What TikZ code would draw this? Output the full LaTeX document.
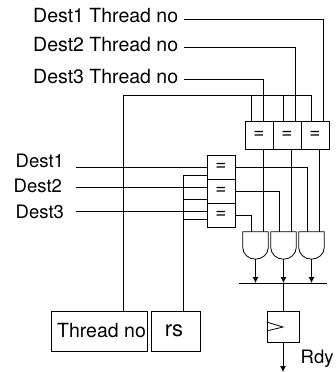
\documentclass[tikz,border=0pt]{standalone}
\usepackage{fontspec}
\setmainfont{TeX Gyre Heros}
\usetikzlibrary{arrows.meta,calc}
\tikzset{
    wire/.style={line width=0.8pt},
    flow/.style={line width=0.8pt, -{Latex[length=6pt,width=6pt]}},
    eqbox/.style={draw, line width=0.8pt, minimum width=28pt, minimum height=#1, inner sep=0pt, font=\fontsize{19}{19}\selectfont},
    regbox/.style={draw, line width=0.8pt, inner sep=0pt, minimum height=40pt},
    lbl/.style={inner sep=0pt, anchor=base west, font=\fontsize{19.5}{19.5}\selectfont},
    destlbl/.style={lbl, font=\fontsize{18.5}{18.5}\selectfont},
    andgate/.style={minimum width=25pt, minimum height=27pt, inner sep=0pt}
}
\begin{document}
\begin{tikzpicture}[x=1pt, y=1pt]
    \useasboundingbox (0,0) rectangle (335,-372);
    % labels along the top
    \node[lbl] (threadone) at (33,-23) {Dest1 Thread no};
    \node[lbl] (threadtwo) at (33,-51) {Dest2 Thread no};
    \node[lbl] (threadthree) at (33,-83) {Dest3 Thread no};
    % labels on the left
    \node[destlbl] (destone) at (15.5,-167) {Dest1};
    \node[destlbl] (desttwo) at (13.5,-192) {Dest2};
    \node[destlbl] (destthree) at (15.5,-218) {Dest3};
    % thread compare row
    \node[eqbox=28pt] (eqa) at (259,-135) {=};
    \node[eqbox=28pt] (eqb) at (287,-135) {=};
    \node[eqbox=28pt] (eqc) at (315,-135) {=};
    % dest compare column
    \node[eqbox=24pt] (cmpa) at (221,-167) {\raisebox{-3pt}{=}};
    \node[eqbox=24pt] (cmpb) at (221,-191) {\raisebox{-3pt}{=}};
    \node[eqbox=24pt] (cmpc) at (221,-215) {\raisebox{1pt}{=}};
    % and gates
    \foreach \name/\x in {anda/255.5, andb/283.5, andc/311.5} {
        \node[andgate] (\name) at (\x,-245.5) {};
        \draw[wire] (\name.north west) -- (\name.north east) -- ++(0,-16)
            .. controls +(0,-6) and +(7,0) .. (\name.south)
            .. controls +(-7,0) and +(0,-6) .. ($(\name.north west)+(0,-16)$) -- cycle;
    }
    % bottom boxes
    \node[regbox, minimum width=96pt] (threadno) at (99,-331) {\fontsize{19.5}{19.5}\selectfont\hspace*{5pt}Thread no};
    \node[regbox, minimum width=49pt] (rsbox) at (175.5,-331) {\fontsize{22}{22}\selectfont rs\hspace*{3pt}};
    \node[regbox, minimum width=32pt, minimum height=31pt] (flop) at (283,-326.5) {};
    \node[destlbl] (rdy) at (300.5,-363) {Rdy};
    % bus bar
    \coordinate (barl) at (239,-283);
    \coordinate (barr) at (327,-283);
    \coordinate (rdyend) at (283,-372);
    \draw[wire] (barl) -- (barr);
    % clock mark
    \draw[wire] (flop.west |- 0,-322) -- (283,-327) -- (flop.west |- 0,-331);
    % thread inputs
    \draw[wire] (184,-19) -- (323,-19) -- (323,-121);
    \draw[wire] (184,-47) -- (295,-47) -- (295,-121);
    \draw[wire] (184,-79) -- (263,-79) -- (263,-121);
    % thread no bus
    \draw[wire] (threadno.north -| 123,0) -- (123,-95) -- (311,-95) -- (311,-121);
    \draw[wire] (251,-95) -- (251,-121);
    \draw[wire] (283,-95) -- (283,-121);
    % dest lines
    \draw[wire] (76,-167) -- (cmpa.west);
    \draw[wire] (76,-187) -- (207,-187);
    \draw[wire] (76,-211) -- (207,-211);
    % rs bus
    \draw[wire] (rsbox.north -| 183,0) -- (183,-175) -- (207,-175);
    \draw[wire] (183,-199) -- (207,-199);
    \draw[wire] (183,-219) -- (207,-219);
    % compare outputs to gates
    \draw[wire] (cmpa.east) -- (307,-167) -- (307,-232);
    \draw[wire] (cmpb.east) -- (279,-191) -- (279,-232);
    \draw[wire] (cmpc.east) -- (251,-215) -- (251,-232);
    \draw[wire] (eqa.south -| 263,0) -- (263,-232);
    \draw[wire] (eqb.south -| 291,0) -- (291,-232);
    \draw[wire] (eqc.south -| 319,0) -- (319,-232);
    % gate outputs and ready
    \draw[flow] (anda.south) -- (anda.south |- barl);
    \draw[flow] (andb.south) -- (andb.south |- barl);
    \draw[flow] (andc.south) -- (andc.south |- barl);
    \draw[wire] (flop.north |- barl) -- (flop.north);
    \draw[flow] (flop.south) -- (rdyend);
\end{tikzpicture}
\end{document}
